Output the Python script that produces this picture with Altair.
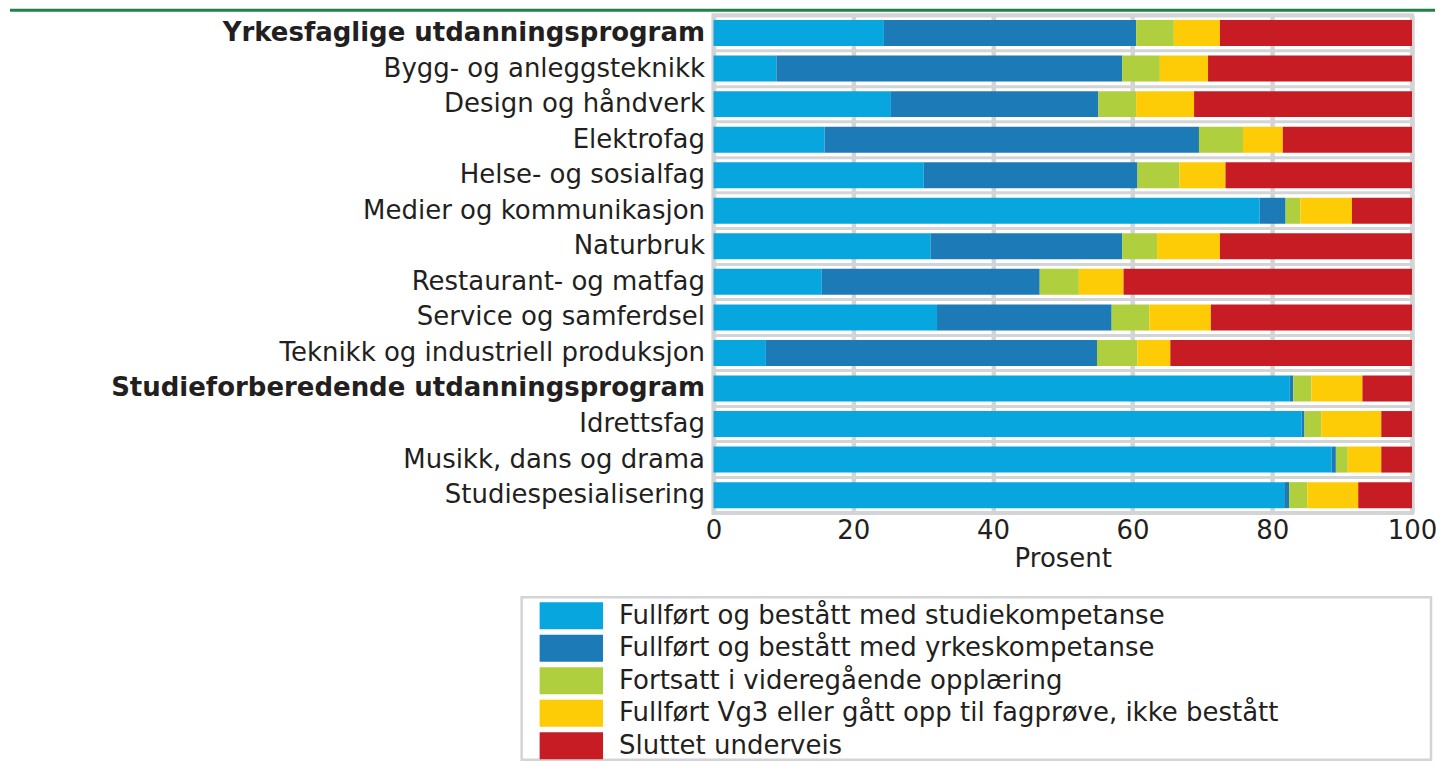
import altair as alt
import pandas as pd

categories = [
    "Yrkesfaglige utdanningsprogram",
    "Bygg- og anleggsteknikk",
    "Design og håndverk",
    "Elektrofag",
    "Helse- og sosialfag",
    "Medier og kommunikasjon",
    "Naturbruk",
    "Restaurant- og matfag",
    "Service og samferdsel",
    "Teknikk og industriell produksjon",
    "Studieforberedende utdanningsprogram",
    "Idrettsfag",
    "Musikk, dans og drama",
    "Studiespesialisering",
]

series = [
    "Fullført og bestått med studiekompetanse",
    "Fullført og bestått med yrkeskompetanse",
    "Fortsatt i videregående opplæring",
    "Fullført Vg3 eller gått opp til fagprøve, ikke bestått",
    "Sluttet underveis",
]
colors = ["#08a6df", "#1c7bb6", "#b0cf3f", "#fecc07", "#c71c23"]

studie = [24.4, 9.0, 25.4, 15.9, 30.1, 78.2, 31.1, 15.5, 32.0, 7.5, 82.5, 84.2, 88.5, 81.7]
yrke = [36.1, 49.5, 29.7, 53.6, 30.6, 3.7, 27.4, 31.2, 25.0, 47.4, 0.5, 0.4, 0.6, 0.7]
fortsatt = [5.4, 5.4, 5.4, 6.3, 6.0, 2.1, 5.0, 5.6, 5.4, 5.8, 2.6, 2.4, 1.7, 2.6]
ikke_bestatt = [6.6, 6.9, 8.3, 5.7, 6.6, 7.4, 9.0, 6.4, 8.8, 4.7, 7.3, 8.6, 4.8, 7.3]
sluttet = [27.5, 29.2, 31.2, 18.5, 26.7, 8.6, 27.5, 41.3, 28.8, 34.6, 7.1, 4.4, 4.4, 7.7]

x_ticks = [0, 20, 40, 60, 80, 100]

values = [studie, yrke, fortsatt, ikke_bestatt, sluttet]
rows = []
for si, (s, vals) in enumerate(zip(series, values)):
    for c, v in zip(categories, vals):
        rows.append({"kategori": c, "serie": s, "verdi": v, "rekkefolge": si})
df = pd.DataFrame(rows)

FONT = "DejaVu Sans"
GRID = "#d3d4d6"
TEXT = "#231f20"

# wide rectangular legend swatch, anchored at the entry's left edge
sym_path = "M-1,-1L3.7,-1L3.7,1L-1,1Z"

bars = alt.Chart(df).mark_bar(size=26).encode(
    x=alt.X(
        "verdi:Q",
        stack="zero",
        scale=alt.Scale(domain=[0, 100], nice=False),
        axis=alt.Axis(
            values=x_ticks,
            title="Prosent",
            titleFont=FONT,
            titleFontSize=26,
            titleFontWeight="normal",
            titleColor=TEXT,
            titlePadding=2,
            labelFont=FONT,
            labelFontSize=26,
            labelColor=TEXT,
            labelPadding=5,
            labelFlush=False,
            ticks=False,
            domain=False,
            grid=True,
            gridColor=GRID,
            gridWidth=4.5,
        ),
    ),
    y=alt.Y(
        "kategori:N",
        sort=categories,
        scale=alt.Scale(paddingInner=0, paddingOuter=0),
        axis=alt.Axis(
            title=None,
            labelFont=FONT,
            labelFontSize=26,
            labelColor=TEXT,
            labelPadding=9,
            labelLimit=0,
            labelFontWeight=alt.condition(
                "datum.value == 'Yrkesfaglige utdanningsprogram' || datum.value == 'Studieforberedende utdanningsprogram'",
                alt.value("bold"),
                alt.value("normal"),
            ),
            ticks=False,
            domain=False,
            grid=True,
            gridColor=GRID,
            gridWidth=3,
            bandPosition=0,
        ),
    ),
    color=alt.Color(
        "serie:N",
        sort=series,
        scale=alt.Scale(domain=series, range=colors),
        legend=alt.Legend(
            title=None,
            orient="none",
            legendX=-174,
            legendY=587.5,
            direction="vertical",
            symbolType=sym_path,
            symbolSize=729,
            symbolStrokeWidth=0,
            symbolOpacity=1,
            labelFont=FONT,
            labelFontSize=26,
            labelColor=TEXT,
            labelOffset=52.5,
            labelLimit=0,
            rowPadding=5.5,
            padding=0,
        ),
    ),
    order=alt.Order("rekkefolge:Q"),
)

one = pd.DataFrame({"a": [0]})

green = alt.Chart(one).mark_rule(color="#23804a", strokeWidth=3).encode(
    x=alt.value(-704), x2=alt.value(722), y=alt.value(-5)
)

legend_box = alt.Chart(one).mark_rect(
    fill="white", fillOpacity=0, stroke=GRID, strokeWidth=2.5
).encode(
    x=alt.value(-192), x2=alt.value(718), y=alt.value(582.5), y2=alt.value(745)
)

chart = (
    alt.layer(bars, green, legend_box)
    .properties(width=699, height=498, padding=0)
    .configure_view(stroke=GRID, strokeWidth=4)
)

chart.save("out.html", embed_options={"renderer": "svg", "actions": False})
